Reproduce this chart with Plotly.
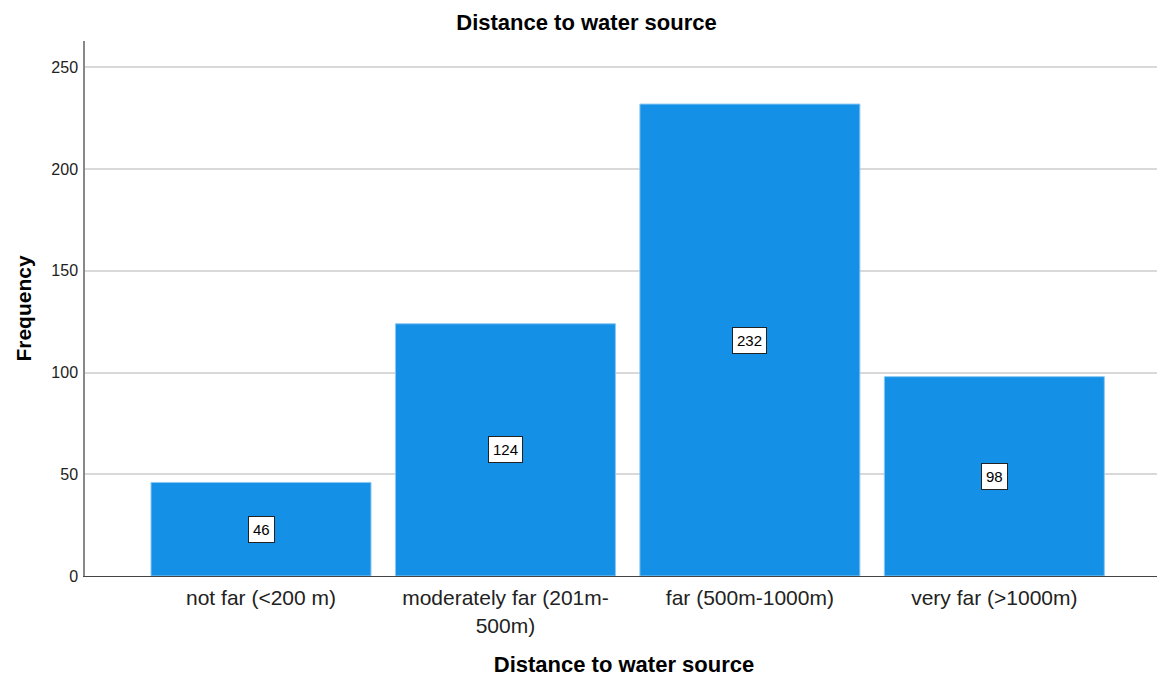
import plotly.graph_objects as go

categories = ["not far (<200 m)", "moderately far (201m-<br>500m)", "far (500m-1000m)", "very far (>1000m)"]
values = [46, 124, 232, 98]
y_ticks = [0, 50, 100, 150, 200, 250]

FONT = "Liberation Sans, Arial, sans-serif"

fig = go.Figure()
fig.add_trace(go.Bar(
    x=list(range(len(categories))), y=values, width=0.9,
    marker=dict(color="#1491e6", line=dict(color="#8cc8f2", width=1)),
    hoverinfo="skip",
))

for i, v in enumerate(values):
    fig.add_annotation(x=i, y=v / 2, text=str(v), showarrow=False,
                       font=dict(family=FONT, size=15, color="black"),
                       bgcolor="white", bordercolor="#222222", borderwidth=1, borderpad=4)

fig.update_layout(
    width=1157, height=669,
    margin=dict(l=77, r=2, t=33, b=101, autoexpand=False),
    paper_bgcolor="white", plot_bgcolor="white",
    showlegend=False,
    font=dict(family=FONT, color="#222222"),
    title=dict(text="<b>Distance to water source</b>", x=0.5, xref="container", xanchor="center",
               y=1 - 14 / 669, yref="container", yanchor="middle",
               font=dict(size=22, color="black")),
)
fig.update_xaxes(
    range=[-0.72, 3.69], tickmode="array", tickvals=list(range(len(categories))), ticktext=categories,
    showline=True, linecolor="#444444", linewidth=1, ticks="", showgrid=False,
    tickfont=dict(size=21, color="#222222"), ticklabelstandoff=3, automargin=False,
    title=dict(text="<b>Distance to water source</b>", font=dict(size=22, color="black"), standoff=26),
)
fig.update_yaxes(
    range=[0, 263], tickmode="array", tickvals=y_ticks,
    showline=True, linecolor="#888888", linewidth=1.5, ticks="",
    showgrid=True, gridcolor="#d9d9d9", gridwidth=1.5, zeroline=False,
    tickfont=dict(size=16, color="#222222"), ticklabelstandoff=2, automargin=False,
    title=dict(text="<b>Frequency</b>", font=dict(size=21, color="black"), standoff=14),
)

fig.write_html("out.html")
